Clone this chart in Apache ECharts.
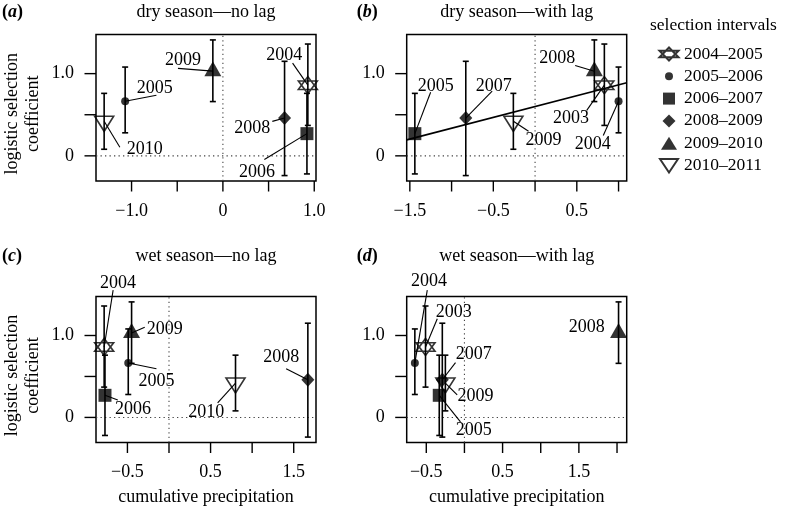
<!DOCTYPE html>
<html><head><meta charset="utf-8">
<script src="https://cdn.jsdelivr.net/npm/echarts@6/dist/echarts.min.js"></script>
<style>html,body{margin:0;padding:0;background:#fff}#c{width:786px;height:508px}</style>
</head><body><div id="c"></div>
<script>
// ---------- data ----------
const intervals = ['2004–2005','2005–2006','2006–2007','2008–2009','2009–2010','2010–2011'];
const coef   = [0.86, 0.665, 0.27, 0.46, 1.03, 0.42];
const ciLow  = [0.37, 0.28, -0.22, -0.24, 0.66, 0.08];
const ciHigh = [1.36, 1.08, 0.76, 1.15, 1.41, 0.76];
const precipDryNoLag = [0.93, -1.07, 0.92, 0.675, -0.11, -1.30];
const precipDryLag   = [0.83, 1.00, -1.44, -0.83, 0.71, -0.26];
const precipWetNoLag = [-0.78, -0.49, -0.77, 1.67, -0.45, 0.80];
const precipWetLag   = [-0.51, -0.65, -0.33, -0.29, 2.02, -0.25];
const dryLagFit = [0.60, 0.264]; // intercept, slope of fitted line (panel b)
const panelTitles = ['dry season—no lag','dry season—with lag','wet season—no lag','wet season—with lag'];
const panelLetters = ['a','b','c','d'];
const xTicks = [[-1,-0.5,0,0.5,1],[-1.5,-1,-0.5,0,0.5,1],[-0.5,0,0.5,1,1.5],[-0.5,0,0.5,1,1.5,2]];
const xTickLabels = [[-1,0,1],[-1.5,-0.5,0.5],[-0.5,0.5,1.5],[-0.5,0.5,1.5]];
const yTicks = [0,0.5,1];
const yTickLabels = [0,1];
// year annotations: [text, interval index, label x, label y, leader start x, leader start y] (data units)
const labelsA = [
  ['2009',4,-0.437,1.165,-0.492,1.064],
  ['2005',1,-0.746,0.819,-0.728,0.737],
  ['2010',5,-0.855,0.086,-1.128,0.105],
  ['2008',3,0.320,0.337,0.541,0.419],
  ['2004',0,0.672,1.226,0.763,1.128],
  ['2006',2,0.372,-0.200,0.454,-0.045]
];
const labelsB = [
  ['2005',2,-1.191,0.847,-1.251,0.774],
  ['2007',3,-0.495,0.847,-0.514,0.786],
  ['2009',5,0.101,0.186,-0.078,0.300],
  ['2008',4,0.265,1.190,0.480,1.100],
  ['2003',0,0.430,0.462,0.619,0.553],
  ['2004',1,0.692,0.144,0.817,0.248]
];
const labelsC = [
  ['2004',0,-0.612,1.637,-0.672,1.554],
  ['2009',4,-0.052,1.080,-0.292,1.101],
  ['2005',1,-0.151,0.441,-0.151,0.594],
  ['2006',2,-0.432,0.099,-0.616,0.214],
  ['2010',5,0.449,0.069,0.585,0.177],
  ['2008',3,1.349,0.730,1.409,0.594]
];
const labelsD = [
  ['2004',1,-0.466,1.658,-0.487,1.554],
  ['2003',0,-0.140,1.278,-0.356,1.204],
  ['2007',3,0.121,0.771,-0.117,0.668],
  ['2009',5,0.144,0.255,-0.095,0.276],
  ['2005',2,0.121,-0.157,-0.052,-0.054],
  ['2008',4,1.602,1.101,null,null]
];

// ---------- setup ----------
const FONT = 'Liberation Serif';
const FS = 18;
const EXT = 12;                 // strip (px) left of and below each box, holding the ticks
const BOX_W = 220;
const BOX_H = [146.5, 146.5, 146, 146];
const BOX_L = [96, 406.7, 96, 406.7];
const BOX_T = [34.5, 34.5, 296.5, 296.5];
const precip = [precipDryNoLag, precipDryLag, precipWetNoLag, precipWetLag];
const labels = [labelsA, labelsB, labelsC, labelsD];
function rRange(vals){
  const mn = Math.min(...vals), mx = Math.max(...vals), e = 0.04*(mx-mn);
  return [mn-e, mx+e];
}
const yR = rRange(ciLow.concat(ciHigh));
const xRs = precip.map(rRange);
const fmt = v => v===0 ? '0' : (v<0?'−':'') + Math.abs(v).toFixed(1);

const STAR = 'path://M10,0L20,15L0,15ZM0,5L20,5L10,20Z';
const DOWN = 'path://M0,0L20,0L10,16Z';
const UP = 'path://M10,0L20,16L0,16Z';
const hollow = {color:'rgba(0,0,0,0)', borderColor:'#000', borderWidth:1.6};
const solid = {color:'#000'};
const symDefs = [
  {symbol:STAR, symbolSize:[19,17], itemStyle:hollow},
  {symbol:'circle', symbolSize:8, itemStyle:solid},
  {symbol:'rect', symbolSize:13, itemStyle:solid},
  {symbol:'diamond', symbolSize:[13,14], itemStyle:solid},
  {symbol:UP, symbolSize:[17,15], itemStyle:solid, symbolOffset:[0,-2.5]},
  {symbol:DOWN, symbolSize:[19,15], itemStyle:hollow, symbolOffset:[0,2.5]}
];
const legendIcons = [
  'path://M0,0M20,16M10,1.5L19.5,11.25L0.5,11.25ZM0.5,4.75L19.5,4.75L10,14.5Z',
  'path://M0,0M20,16M14,8A4,4,0,1,1,6,8A4,4,0,1,1,14,8Z',
  'path://M0,0M20,16M4,2L16,2L16,14L4,14Z',
  'path://M0,0M20,16M10,1.5L16.5,8L10,14.5L3.5,8Z',
  'path://M0,0M20,16M10,1.5L18,14.5L2,14.5Z',
  'path://M0,0M20,16M1,1.5L19,1.5L10,15Z'
];

const grids = [], xAxes = [], yAxes = [], series = [], titles = [];
const titleY = [3.5, 3.5, 247, 247];
const letterX = [2, 356.7, 2, 356.7];

for (let p=0; p<4; p++){
  const xr = xRs[p];
  grids.push({show:false, left:BOX_L[p]-EXT, top:BOX_T[p], width:BOX_W+EXT, height:BOX_H[p]+EXT, containLabel:false});
  const xMinExt = xr[0] - EXT*(xr[1]-xr[0])/BOX_W;
  const yMinExt = yR[0] - EXT*(yR[1]-yR[0])/BOX_H[p];
  xAxes.push({
    type:'value', gridIndex:p, min:xMinExt, max:xr[1], position:'bottom',
    axisLine:{show:false, onZero:false}, splitLine:{show:false}, axisTick:{show:false},
    axisLabel:{customValues:xTickLabels[p], formatter:fmt, color:'#000', fontFamily:FONT, fontSize:FS, margin:9},
    name: p>=2 ? 'cumulative precipitation' : '',
    nameLocation:'middle', nameGap:34,
    nameTextStyle:{color:'#000', fontFamily:FONT, fontSize:FS, padding:[0,0,0,EXT]}
  });
  yAxes.push({
    type:'value', gridIndex:p, min:yMinExt, max:yR[1], position:'left',
    axisLine:{show:false, onZero:false}, splitLine:{show:false}, axisTick:{show:false},
    axisLabel:{customValues:yTickLabels, formatter:fmt, color:'#000', fontFamily:FONT, fontSize:FS, margin:10},
    name: (p%2===0) ? 'logistic selection\ncoefficient' : '',
    nameLocation:'middle', nameRotate:90, nameGap:40,
    nameTextStyle:{color:'#000', fontFamily:FONT, fontSize:FS, lineHeight:21}
  });
  titles.push({
    text:'{p|(}{i|' + panelLetters[p] + '}{p|)}', left:letterX[p], top:titleY[p], padding:0,
    textStyle:{rich:{p:{fontFamily:FONT, fontSize:FS, color:'#000'}, i:{fontFamily:FONT, fontSize:FS, color:'#000', fontStyle:'italic'}}}
  });
  titles.push({
    text:panelTitles[p], left:BOX_L[p] + BOX_W/2, textAlign:'center', top:titleY[p], padding:0,
    textStyle:{fontFamily:FONT, fontSize:FS, color:'#000', fontWeight:'normal'}
  });

  // frame: box with its ticks (one group), plus dotted zero lines -- placed through the axis scales
  const xT = xTicks[p];
  series.push({
    type:'custom', xAxisIndex:p, yAxisIndex:p, z:1, silent:true, clip:false,
    encode:{x:0, y:1},
    data: [[xr[0], yR[0]], [0, 0], [0, 0]],
    renderItem:function(params, api){
      const dot = {stroke:'#444', lineWidth:1.1, lineDash:[1.3,3.2]};
      if (params.dataIndex === 0){
        const a = api.coord([xr[0], yR[1]]), b = api.coord([xr[1], yR[0]]);
        const ch = [{type:'rect', shape:{x:a[0], y:a[1], width:b[0]-a[0], height:b[1]-a[1]}, style:{fill:'none', stroke:'#000', lineWidth:1.5}}];
        xT.forEach(v=>{
          const q = api.coord([v, yR[0]]);
          ch.push({type:'rect', shape:{x:q[0]-0.7, y:q[1], width:1.4, height:10.5}, style:{fill:'#000'}});
        });
        yTicks.forEach(v=>{
          const q = api.coord([xr[0], v]);
          ch.push({type:'rect', shape:{x:q[0]-11.5, y:q[1]-0.7, width:11.5, height:1.4}, style:{fill:'#000'}});
        });
        return {type:'group', children:ch};
      }
      if (params.dataIndex === 1){
        const a = api.coord([0, yR[0]]), b = api.coord([0, yR[1]]);
        return {type:'line', shape:{x1:a[0], y1:a[1], x2:b[0], y2:b[1]}, style:dot};
      }
      const a = api.coord([xr[0], 0]), b = api.coord([xr[1], 0]);
      return {type:'line', shape:{x1:a[0], y1:a[1], x2:b[0], y2:b[1]}, style:dot};
    }
  });

  // error bars
  series.push({
    type:'custom', xAxisIndex:p, yAxisIndex:p, z:2, silent:true,
    encode:{x:0, y:[1,2]},
    data: precip[p].map((x,i)=>[x, ciLow[i], ciHigh[i]]),
    renderItem:function(params, api){
      const x = api.value(0);
      const a = api.coord([x, api.value(1)]), b = api.coord([x, api.value(2)]);
      const c = 3, st = {stroke:'#000', lineWidth:1.6};
      return {type:'group', children:[
        {type:'line', shape:{x1:a[0],y1:a[1],x2:b[0],y2:b[1]}, style:st},
        {type:'line', shape:{x1:a[0]-c,y1:a[1],x2:a[0]+c,y2:a[1]}, style:st},
        {type:'line', shape:{x1:b[0]-c,y1:b[1],x2:b[0]+c,y2:b[1]}, style:st}
      ]};
    }
  });

  // points
  for (let i=0; i<6; i++){
    const d = symDefs[i];
    series.push(Object.assign({
      type:'scatter', name:intervals[i], xAxisIndex:p, yAxisIndex:p, z:3,
      data:[[precip[p][i], coef[i]]], emphasis:{disabled:true}
    }, d));
  }

  // year annotations
  const labs = labels[p], xs = precip[p];
  series.push({
    type:'custom', xAxisIndex:p, yAxisIndex:p, z:4, silent:true, clip:false,
    encode:{x:0, y:1},
    data: labs.map(l=>[l[2], l[3]]),
    renderItem:function(params, api){
      const l = labs[params.dataIndex];
      const pos = api.coord([l[2], l[3]]);
      const ch = [];
      if (l[4] !== null){
        const a = api.coord([l[4], l[5]]);
        const q = api.coord([xs[l[1]], coef[l[1]]]);
        ch.push({type:'line', shape:{x1:a[0],y1:a[1],x2:q[0],y2:q[1]}, style:{stroke:'#000', lineWidth:1.1}});
      }
      ch.push({type:'text', x:pos[0], y:pos[1], style:{text:l[0], fill:'#000', font:FS+'px "'+FONT+'"', align:'center', verticalAlign:'middle'}});
      return {type:'group', children:ch};
    }
  });
}

// fitted line in panel b (spans the box only)
const xrB = xRs[1];
series.push({
  type:'line', xAxisIndex:1, yAxisIndex:1, z:2, silent:true, symbol:'none',
  lineStyle:{color:'#000', width:1.6},
  data:[[xrB[0], dryLagFit[0]+dryLagFit[1]*xrB[0]], [xrB[1], dryLagFit[0]+dryLagFit[1]*xrB[1]]]
});

titles.push({text:'selection intervals', left:650, top:16, padding:0,
  textStyle:{fontFamily:FONT, fontSize:17.5, color:'#000', fontWeight:'normal'}});

const chart = echarts.init(document.getElementById('c'), null, {renderer:'canvas'});
chart.setOption({
  animation:false,
  backgroundColor:'#fff',
  title: titles,
  grid: grids,
  xAxis: xAxes, yAxis: yAxes,
  legend:{
    orient:'vertical', left:653, top:40, itemWidth:20, itemHeight:16, itemGap:4.3,
    selectedMode:false,
    textStyle:{fontFamily:FONT, fontSize:17.5, color:'#000', lineHeight:18, padding:[0,0,0,0]},
    data: intervals.map((n,i)=>({name:n, icon:legendIcons[i]}))
  },
  series: series
});
</script></body></html>
